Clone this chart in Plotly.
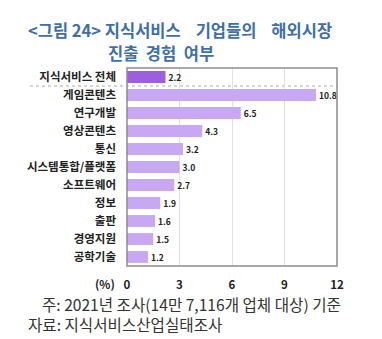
import plotly.graph_objects as go

categories = ["지식서비스 전체", "게임콘텐츠", "연구개발", "영상콘텐츠", "통신", "시스템통합/플랫폼",
              "소프트웨어", "정보", "출판", "경영지원", "공학기술"]
values = [2.2, 10.8, 6.5, 4.3, 3.2, 3.0, 2.7, 1.9, 1.6, 1.5, 1.2]
tick_vals = [0, 3, 6, 9, 12]
tick_text = ["0", "3", "6", "9", "12"]
title_line1 = "&lt;그림 24&gt; 지식서비스&nbsp;&nbsp;&nbsp;&nbsp;기업들의&nbsp;&nbsp;&nbsp;&nbsp;해외시장"
title_line2 = "진출&nbsp;&nbsp;경험&nbsp;&nbsp;여부"
note1 = "주: 2021년 조사(14만 7,116개 업체 대상) 기준"
note2 = "자료: 지식서비스산업실태조사"

W, H = 382, 339
L, R, T, B = 127, 45, 68, 73
pw = W - L - R
ph = H - T - B

def px(x):
    return (x - L) / pw

def py(y):
    return 1 - (y - T) / ph

FONT = "Noto Sans CJK KR"
colors = ["#9c5fe0"] + ["#c8a8f2"] * (len(values) - 1)

fig = go.Figure(go.Bar(
    x=values, y=categories, orientation="h",
    marker=dict(color=colors, line=dict(width=0)),
    width=0.66,
    text=values, texttemplate="<b>%{x:.1f}</b>", textposition="outside",
    textfont=dict(family=FONT, size=11.5, color="#222"),
    cliponaxis=False,
))

fig.update_layout(
    width=W, height=H,
    margin=dict(l=L, r=R, t=T, b=B),
    paper_bgcolor="white", plot_bgcolor="white",
    showlegend=False,
    font=dict(family=FONT),
    xaxis=dict(range=[0, 12], tickvals=tick_vals, ticktext=[f"<b>{t}</b>" for t in tick_text],
               showgrid=True, gridcolor="#e2e2e2", gridwidth=1, zeroline=False,
               ticks="", ticklabelstandoff=10,
               tickfont=dict(family=FONT, size=11.5, color="#222"), fixedrange=True),
    yaxis=dict(categoryorder="array", categoryarray=categories, autorange="reversed",
               ticks="", ticklabelstandoff=10, showgrid=False,
               tickfont=dict(family=FONT, size=11.5, color="#222"),
               ticktext=[f"<b>{c}</b>" for c in categories], tickvals=categories),
)

# plot border
fig.add_shape(type="rect", xref="paper", yref="paper", x0=0, x1=1, y0=0, y1=1,
              line=dict(color="#8c8c8c", width=1.5), layer="above")
# dotted separator under first row
fig.add_shape(type="line", xref="paper", yref="y", x0=px(30), x1=1, y0=0.5, y1=0.5,
              line=dict(color="#aaaaaa", width=1, dash="dot"), layer="below")

fig.add_annotation(text=f"<b>{title_line1}</b>", xref="paper", yref="paper",
                   x=px(26), y=py(30.5), xanchor="left", yanchor="middle", showarrow=False,
                   font=dict(family=FONT, size=16.5, color="#3f6fa6"))
fig.add_annotation(text=f"<b>{title_line2}</b>", xref="paper", yref="paper",
                   x=px(106), y=py(52.5), xanchor="left", yanchor="middle", showarrow=False,
                   font=dict(family=FONT, size=16.5, color="#3f6fa6"))
fig.add_annotation(text="<b>(%)</b>", xref="paper", yref="paper",
                   x=px(105), y=py(284), xanchor="center", yanchor="middle", showarrow=False,
                   font=dict(family=FONT, size=11.5, color="#222"))
fig.add_annotation(text="&nbsp;&nbsp;&nbsp;&nbsp;" + note1 + "<br>" + note2, xref="paper", yref="paper",
                   x=px(26), y=py(314), xanchor="left", yanchor="middle", showarrow=False, align="left",
                   font=dict(family=FONT, size=15.6, color="#333"))

fig.write_html("out.html")
